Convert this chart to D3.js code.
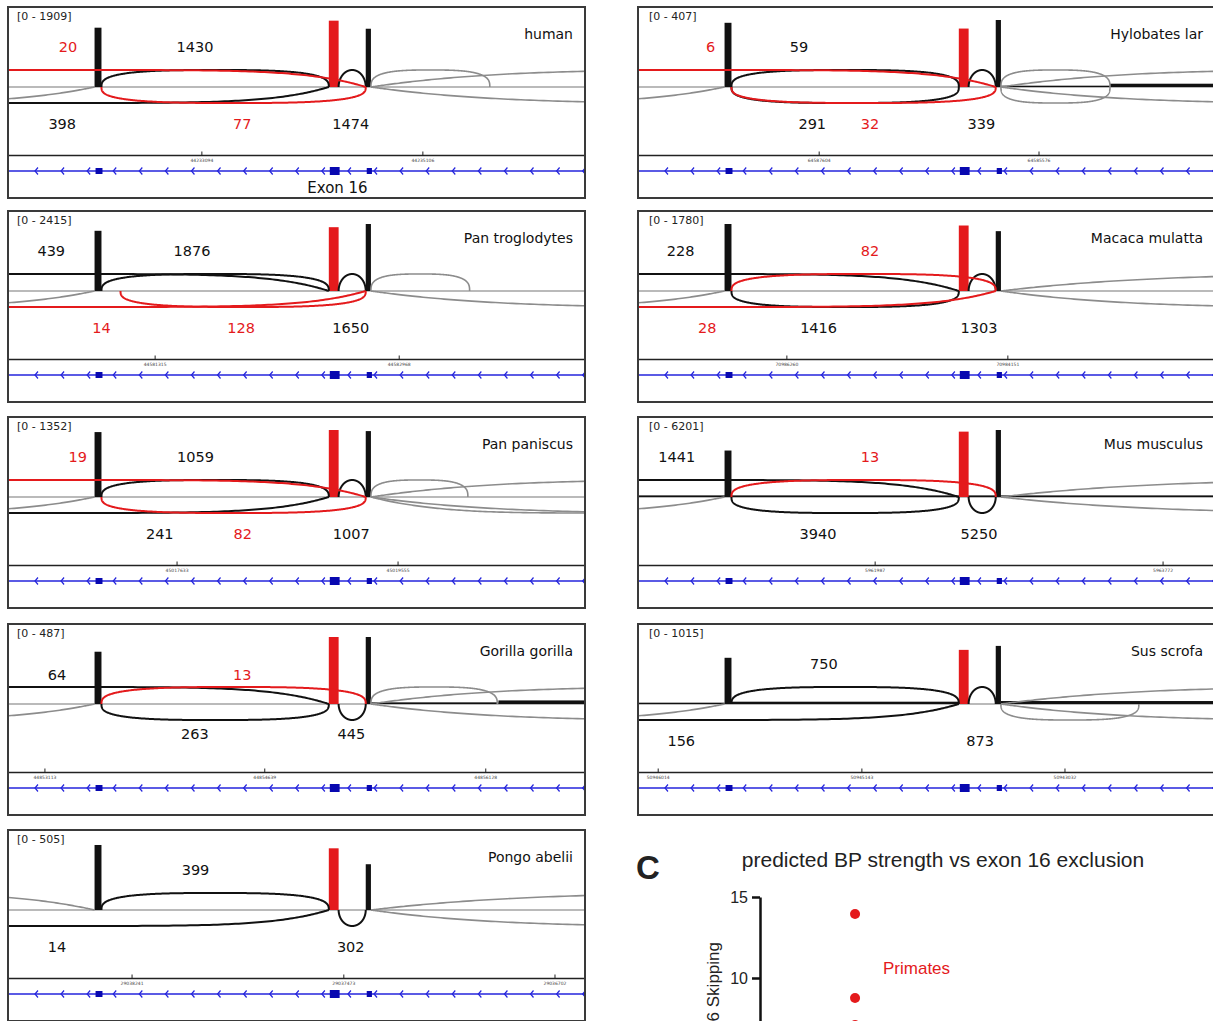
<!DOCTYPE html>
<html>
<head>
<meta charset="utf-8">
<script src="https://cdn.jsdelivr.net/npm/d3@7"></script>
<style>
body { margin: 0; background: #fff; }
text { font-family: "DejaVu Sans", sans-serif; }
</style>
</head>
<body>
<svg width="1213" height="1021"></svg>
<script>
// sashimi panels (x in track units 0..1000 across the visible window)
const species = ["human", "Hylobates lar", "Pan troglodytes", "Macaca mulatta", "Pan paniscus",
    "Mus musculus", "Gorilla gorilla", "Sus scrofa", "Pongo abelii"];
const rangeMax = [1909, 407, 2415, 1780, 1352, 6201, 487, 1015, 505];
// exon 15 / exon 16 / exon 17 peak coverage
const exonCoverage = [
    [1690, 1890, 1660], [390, 355, 407], [2170, 2300, 2415], [1780, 1740, 1590], [1310, 1352, 1330],
    [4300, 6050, 6201], [380, 487, 487], [700, 820, 880], [490, 465, 345]
];
const exons = [[150, 162], [556, 573], [620, 629]];
// low intronic coverage [start, end, reads]
const backgroundCov = [
    [], [[629, 818, 8], [818, 1000, 20]], [], [], [],
    [[0, 1000, 150]], [[629, 850, 12], [850, 1000, 26]],
    [[0, 150, 20], [162, 556, 35], [629, 1000, 45]], []
];
// junctions: from, to, above/below, colour, read count, label position
const junctions = [
    [ // human
        {f: -900, t: 150, up: false, c: "g"}, {f: 629, t: 835, up: true, c: "g"},
        {f: 629, t: 2200, up: true, c: "g"}, {f: 629, t: 2200, up: false, c: "g"},
        {f: 162, t: 556, up: true, c: "k", n: 1430, at: 324, row: "up"},
        {f: 573, t: 620, up: true, c: "k", n: 1474, at: 594, row: "down"},
        {f: -900, t: 556, up: false, c: "k", n: 398, at: 94, row: "down"},
        {f: -900, t: 620, up: true, c: "r", n: 20, at: 104, row: "up"},
        {f: 162, t: 620, up: false, c: "r", n: 77, at: 406, row: "down"}
    ],
    [ // Hylobates lar
        {f: -900, t: 150, up: false, c: "g"},
        {f: 629, t: 818, up: true, c: "g"}, {f: 629, t: 818, up: false, c: "g"},
        {f: 629, t: 2200, up: true, c: "g"}, {f: 629, t: 2200, up: false, c: "g"},
        {f: 162, t: 556, up: true, c: "k", n: 59, at: 279, row: "up"},
        {f: 573, t: 620, up: true, c: "k", n: 339, at: 595, row: "down"},
        {f: 162, t: 556, up: false, c: "k", n: 291, at: 302, row: "down"},
        {f: -900, t: 620, up: true, c: "r", n: 6, at: 126, row: "up"},
        {f: 162, t: 620, up: false, c: "r", n: 32, at: 402, row: "down"}
    ],
    [ // Pan troglodytes
        {f: -900, t: 150, up: false, c: "g"}, {f: 629, t: 800, up: true, c: "g"},
        {f: 629, t: 2200, up: false, c: "g"},
        {f: -900, t: 556, up: true, c: "k", n: 439, at: 75, row: "up"},
        {f: 162, t: 556, up: true, c: "k", n: 1876, at: 319, row: "up"},
        {f: 573, t: 620, up: true, c: "k", n: 1650, at: 594, row: "down"},
        {f: -900, t: 620, up: false, c: "r", n: 14, at: 162, row: "down"},
        {f: 195, t: 620, up: false, c: "r", n: 128, at: 404, row: "down"}
    ],
    [ // Macaca mulatta
        {f: -900, t: 150, up: false, c: "g"}, {f: 629, t: 2600, up: true, c: "g"},
        {f: 629, t: 2200, up: false, c: "g"},
        {f: -900, t: 556, up: true, c: "k", n: 228, at: 74, row: "up"},
        {f: 162, t: 556, up: false, c: "k", n: 1416, at: 313, row: "down"},
        {f: 573, t: 620, up: true, c: "k", n: 1303, at: 591, row: "down"},
        {f: 162, t: 620, up: true, c: "r", n: 82, at: 402, row: "up"},
        {f: -900, t: 620, up: false, c: "r", n: 28, at: 120, row: "down"}
    ],
    [ // Pan paniscus
        {f: -900, t: 150, up: false, c: "g"}, {f: 629, t: 797, up: true, c: "g"},
        {f: 629, t: 2200, up: true, c: "g"}, {f: 629, t: 2200, up: false, c: "g"},
        {f: 629, t: 1500, up: false, c: "g"},
        {f: 162, t: 556, up: true, c: "k", n: 1059, at: 325, row: "up"},
        {f: 573, t: 620, up: true, c: "k", n: 1007, at: 595, row: "down"},
        {f: -900, t: 556, up: false, c: "k", n: 241, at: 263, row: "down"},
        {f: -900, t: 620, up: true, c: "r", n: 19, at: 121, row: "up"},
        {f: 162, t: 620, up: false, c: "r", n: 82, at: 407, row: "down"}
    ],
    [ // Mus musculus
        {f: -900, t: 150, up: false, c: "g"},
        {f: 629, t: 2600, up: true, c: "g"}, {f: 629, t: 2600, up: false, c: "g"},
        {f: -900, t: 556, up: true, c: "k", n: 1441, at: 67, row: "up"},
        {f: 162, t: 556, up: false, c: "k", n: 3940, at: 312, row: "down"},
        {f: 573, t: 620, up: false, c: "k", n: 5250, at: 591, row: "down"},
        {f: 162, t: 620, up: true, c: "r", n: 13, at: 402, row: "up"}
    ],
    [ // Gorilla gorilla
        {f: -900, t: 150, up: false, c: "g"}, {f: 629, t: 848, up: true, c: "g"},
        {f: 629, t: 2200, up: true, c: "g"}, {f: 629, t: 2200, up: false, c: "g"},
        {f: -900, t: 556, up: true, c: "k", n: 64, at: 85, row: "up"},
        {f: 162, t: 556, up: false, c: "k", n: 263, at: 324, row: "down"},
        {f: 573, t: 620, up: false, c: "k", n: 445, at: 595, row: "down"},
        {f: 162, t: 620, up: true, c: "r", n: 13, at: 406, row: "up"}
    ],
    [ // Sus scrofa
        {f: -900, t: 150, up: false, c: "g"}, {f: 629, t: 2400, up: true, c: "g"},
        {f: 629, t: 868, up: false, c: "g"}, {f: 629, t: 2200, up: false, c: "g"},
        {f: 162, t: 556, up: true, c: "k", n: 750, at: 322, row: "up"},
        {f: -900, t: 556, up: false, c: "k", n: 156, at: 75, row: "down"},
        {f: 573, t: 620, up: true, c: "k", n: 873, at: 593, row: "down"}
    ],
    [ // Pongo abelii
        {f: -900, t: 150, up: true, c: "g"}, {f: 629, t: 2600, up: true, c: "g"},
        {f: 629, t: 2200, up: false, c: "g"},
        {f: 162, t: 556, up: true, c: "k", n: 399, at: 325, row: "up"},
        {f: -900, t: 556, up: false, c: "k", n: 14, at: 85, row: "down"},
        {f: 573, t: 620, up: false, c: "k", n: 302, at: 594, row: "down"}
    ]
];
const coordTicks = [
    [336, 719], [314, 695], [255, 678], [258, 641], [293, 676],
    [411, 910], [64, 445, 828], [35, 388, 740], [215, 582, 948]
];
const coordLabels = [
    ["44233094", "44235106"], ["64587604", "64585576"], ["44581315", "44582968"],
    ["70986260", "70984151"], ["45017633", "45019555"], ["5961987", "5963772"],
    ["44853113", "44854639", "44856128"], ["50946014", "50945143", "50943032"],
    ["29038241", "29037473", "29036702"]
];

// panel C scatter
const groups = ["Primates", "Primates", "Primates"];
const bpStrength = [1.08, 1.08, 1.08];
const pctSkipping = [13.95, 8.77, 7.1];
const yTicks = [10, 15];

const colors = {k: "#111", r: "#e41a1c", g: "#8c8c8c"};
const panelW = 577, panelH = 191;
const rowTops = [7, 211, 417, 624, 830];

const svg = d3.select("svg");
const arcLine = d3.line();

// junction arc as a superellipse; off-screen ones flatter, gray ones softer
function arcPath(j, x, base) {
    const x1 = x(j.f), x2 = x(j.t), span = x2 - x1;
    const h = j.up ? -17 : 16;
    const inside = j.f >= 0 && j.t <= 1000;
    let p = 4, q = 1;
    if (span < 60) { p = 2; q = 2; }
    else if (inside) { p = 3; q = 3; }
    else if (j.c !== "g") p = 8;
    const pts = d3.range(0, 241).map(k => {
        const u = 0.5 - 0.5 * Math.cos(Math.PI * k / 240);
        const v = Math.abs(2 * u - 1);
        return [x1 + u * span, base + h * Math.pow(1 - Math.pow(v, p), 1 / q)];
    });
    return arcLine(pts);
}

species.forEach((name, i) => {
    const col = i % 2, row = Math.floor(i / 2);
    const x0 = col ? 638 : 8;
    const top = rowTops[row];
    const base = top + 80;

    const x = d3.scaleLinear().domain([0, 1000]).range([x0, x0 + panelW]);
    const y = d3.scaleLinear().domain([0, rangeMax[i]]).range([base, base - 67]);

    svg.append("clipPath").attr("id", "clip" + i)
        .append("rect").attr("x", x0).attr("y", top).attr("width", panelW).attr("height", panelH);

    const g = svg.append("g").attr("clip-path", `url(#clip${i})`);

    g.append("line")
        .attr("x1", x0).attr("x2", x0 + panelW)
        .attr("y1", base).attr("y2", base)
        .attr("stroke", "#777").attr("stroke-width", 1.2);

    g.selectAll(".bg").data(backgroundCov[i]).join("rect")
        .attr("x", d => x(d[0]))
        .attr("width", d => x(d[1]) - x(d[0]))
        .attr("y", d => y(d[2]))
        .attr("height", d => base - y(d[2]))
        .attr("fill", "#111");

    g.selectAll(".cov").data(exons).join("rect")
        .attr("x", d => x(d[0]))
        .attr("width", d => x(d[1]) - x(d[0]))
        .attr("y", (d, k) => y(exonCoverage[i][k]))
        .attr("height", (d, k) => base - y(exonCoverage[i][k]))
        .attr("fill", (d, k) => k === 1 ? colors.r : "#111");

    const js = junctions[i].slice().sort((a, b) => (a.c === "g" ? 0 : 1) - (b.c === "g" ? 0 : 1));
    g.selectAll(".arc").data(js).join("path")
        .attr("d", d => arcPath(d, x, base))
        .attr("fill", "none")
        .attr("stroke", d => colors[d.c])
        .attr("stroke-width", d => d.c === "g" ? 1.6 : 2);

    const off = name === "Gorilla gorilla" ? [-24, 35] : [-35, 42];
    g.selectAll(".cnt").data(junctions[i].filter(d => d.n)).join("text")
        .attr("x", d => x(d.at))
        .attr("y", d => base + (d.row === "up" ? off[0] : off[1]))
        .attr("text-anchor", "middle")
        .attr("font-size", 14.5)
        .attr("fill", d => d.c === "r" ? colors.r : "#111")
        .text(d => d.n);

    g.append("text")
        .attr("x", x0 + (col ? 11 : 9)).attr("y", top + 13)
        .attr("font-size", 11).attr("fill", "#222")
        .text(`[0 - ${rangeMax[i]}]`);

    g.append("text")
        .attr("x", x0 + 565).attr("y", top + 32)
        .attr("text-anchor", "end").attr("font-size", 14).attr("fill", "#111")
        .text(name);

    // gene track
    const sepY = top + 148.5, geneY = top + 164;
    g.append("line")
        .attr("x1", x0).attr("x2", x0 + panelW)
        .attr("y1", sepY).attr("y2", sepY)
        .attr("stroke", "#222").attr("stroke-width", 1.5);
    g.selectAll(".tk").data(coordTicks[i]).join("line")
        .attr("x1", d => x(d)).attr("x2", d => x(d))
        .attr("y1", sepY - 4).attr("y2", sepY)
        .attr("stroke", "#222");
    g.selectAll(".tl").data(coordTicks[i]).join("text")
        .attr("x", d => x(d)).attr("y", sepY + 6)
        .attr("text-anchor", "middle").attr("font-size", 4.5).attr("fill", "#444")
        .text((d, k) => coordLabels[i][k]);

    g.append("line")
        .attr("x1", x0).attr("x2", x0 + panelW)
        .attr("y1", geneY).attr("y2", geneY)
        .attr("stroke", "#2424dc").attr("stroke-width", 1.5);
    g.selectAll(".chev").data(d3.range(48.5, 1000, 45.2)).join("path")
        .attr("d", d => `M${x(d) + 2},${geneY - 3.5} L${x(d) - 1},${geneY} L${x(d) + 2},${geneY + 3.5}`)
        .attr("fill", "none").attr("stroke", "#2424dc").attr("stroke-width", 1.2);
    g.selectAll(".box").data(exons).join("rect")
        .attr("x", d => x(d[0]) + 1)
        .attr("width", d => x(d[1]) - x(d[0]))
        .attr("y", (d, k) => geneY - (k === 1 ? 4 : 3))
        .attr("height", (d, k) => k === 1 ? 8 : 6)
        .attr("fill", "#0808b0");

    if (i === 0) {
        g.append("text")
            .attr("x", x(571)).attr("y", top + 186)
            .attr("text-anchor", "middle").attr("font-size", 15).attr("fill", "#111")
            .text("Exon 16");
    }

    svg.append("rect")
        .attr("x", x0).attr("y", top).attr("width", panelW).attr("height", panelH)
        .attr("fill", "none").attr("stroke", "#3a3a3a").attr("stroke-width", 2);
});

// panel C
const arial = "'Liberation Sans', Arial, sans-serif";
const cg = svg.append("g");
cg.append("text").attr("x", 636).attr("y", 879)
    .attr("font-size", 33).attr("font-weight", "bold").attr("fill", "#222")
    .style("font-family", arial)
    .text("C");
cg.append("text").attr("x", 943).attr("y", 867)
    .attr("text-anchor", "middle").attr("font-size", 21).attr("fill", "#222")
    .style("font-family", arial)
    .text("predicted BP strength vs exon 16 exclusion");

const xS = d3.scaleLinear().domain([0, 5]).range([760, 1200]);
const yS = d3.scaleLinear().domain([0, 15]).range([1140, 897]);

const yAxis = cg.append("g")
    .attr("transform", `translate(${xS(0)},0)`)
    .call(d3.axisLeft(yS).tickValues(yTicks).tickSize(8).tickSizeOuter(0).tickPadding(4));
yAxis.select(".domain").attr("stroke", "#111").attr("stroke-width", 2.5);
yAxis.selectAll(".tick line").attr("stroke", "#111").attr("stroke-width", 2.5);
yAxis.selectAll(".tick text").attr("font-size", 16).attr("fill", "#222")
    .style("font-family", arial);

cg.append("text")
    .attr("transform", "translate(719,942) rotate(-90)")
    .attr("text-anchor", "end").attr("font-size", 17).attr("fill", "#222")
    .style("font-family", arial)
    .text("% Exon 16 Skipping");

cg.selectAll(".pt").data(pctSkipping).join("circle")
    .attr("cx", (d, k) => xS(bpStrength[k]))
    .attr("cy", d => yS(d))
    .attr("r", 5)
    .attr("fill", "#e41a1c");

cg.append("text")
    .attr("x", 883).attr("y", 974)
    .attr("font-size", 17).attr("fill", "#e41a1c")
    .style("font-family", arial)
    .text(groups[0]);
</script>
</body>
</html>
